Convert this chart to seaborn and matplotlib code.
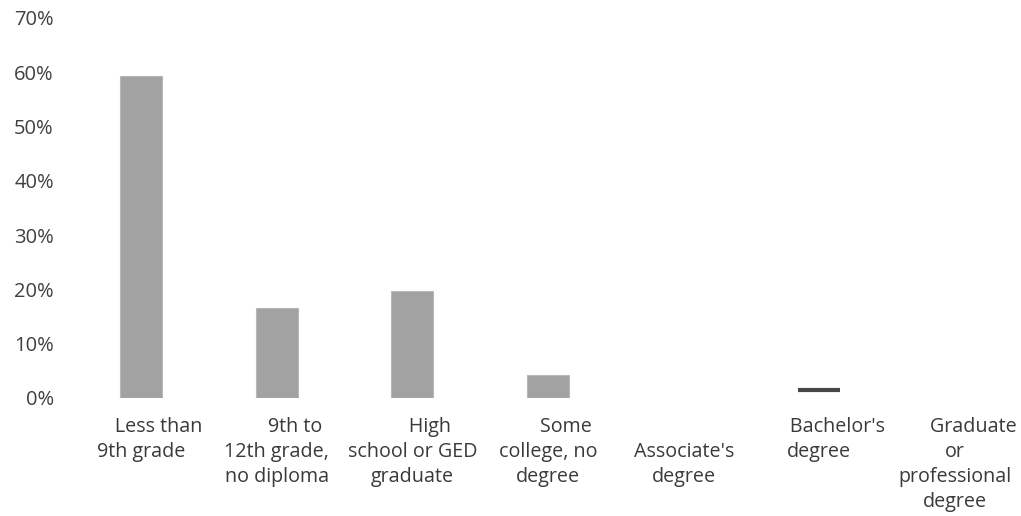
import matplotlib
matplotlib.use("Agg")
import matplotlib.pyplot as plt
import seaborn as sns
import pandas as pd

# Educational attainment categories (first line of each label, remaining lines)
first_lines = ["Less than", "9th to", "High", "Some", "", "Bachelor's", "Graduate"]
rest_lines = ["9th grade", "12th grade,\nno diploma", "school or GED\ngraduate",
              "college, no\ndegree", "Associate's\ndegree", "degree",
              "or\nprofessional\ndegree"]
shares = [59.3, 16.6, 19.7, 4.2, 0.0, 1.5, 0.0]
y_ticks = [0, 10, 20, 30, 40, 50, 60, 70]

sns.set_theme(style="white")
plt.rcParams["font.family"] = ["Open Sans", "DejaVu Sans"]

categories = [f"{a}|{b}" for a, b in zip(first_lines, rest_lines)]
df = pd.DataFrame({"category": categories, "share": shares})

fig = plt.figure(figsize=(10.21, 5.16), dpi=100)
ax = fig.add_axes([0.0717, 0.2287, 0.9302, 0.7365])

sns.barplot(data=df, x="category", y="share", color="#a2a2a2", saturation=1,
            width=0.31, edgecolor="#b8b8b8", linewidth=0.8, ax=ax)

# Empty categories get no outline
for p, v in zip(ax.patches, shares):
    if v == 0:
        p.set_linewidth(0)

# The bachelor's bar is shown only as a dark rule at its value
bach = 5
patch = ax.patches[bach]
patch.set_facecolor("none")
patch.set_edgecolor("none")
ax.hlines(shares[bach], bach - 0.155, bach + 0.155, color="#474747", linewidth=3)

ax.set_xlim(-0.5, 6.5)
ax.set_ylim(0, 70)
ax.set_yticks(y_ticks)
ax.set_yticklabels([f"{v}%" for v in y_ticks])

# Multi-line category labels; the first line sits slightly right of the rest
labels = []
for a, b in zip(first_lines, rest_lines):
    if a:
        labels.append("       " + a + "\n" + b)
    else:
        labels.append(" \n" + b)
ax.set_xticks(range(len(categories)))
ax.set_xticklabels(labels, linespacing=1.33)

ax.tick_params(axis="y", length=0, pad=14, labelsize=14.5, labelcolor="#404040")
ax.tick_params(axis="x", length=0, pad=14, labelsize=14.2, labelcolor="#3a3a3a")
ax.set_xlabel("")
ax.set_ylabel("")
for s in ax.spines.values():
    s.set_visible(False)

fig.savefig("out.png", dpi=100)
